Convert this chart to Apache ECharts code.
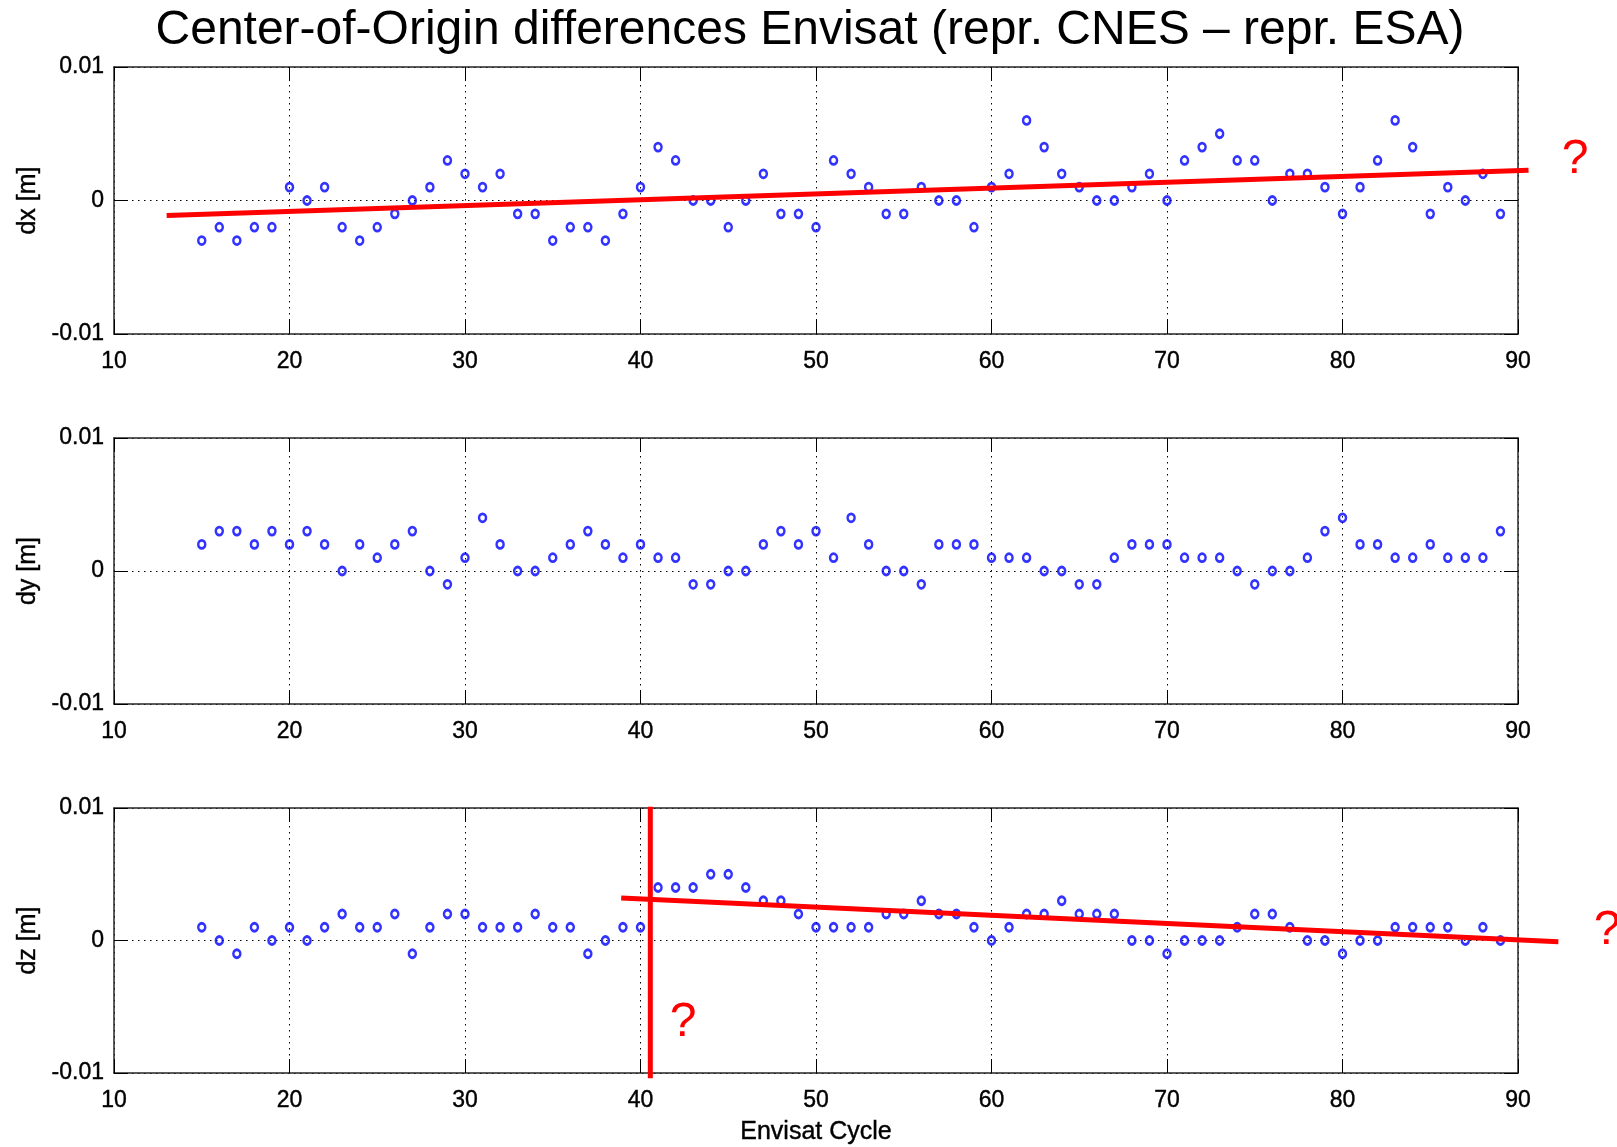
<!DOCTYPE html>
<html>
<head>
<meta charset="utf-8">
<title>Center-of-Origin differences Envisat</title>
<script src="https://cdn.jsdelivr.net/npm/echarts@6/dist/echarts.min.js"></script>
<style>
  html, body { margin: 0; padding: 0; background: #fff; }
  #chart { width: 1617px; height: 1147px; }
</style>
</head>
<body>
<div id="chart"></div>
<script>
// Envisat cycles
const cycles = [15, 16, 17, 18, 19, 20, 21, 22, 23, 24, 25, 26, 27, 28, 29,
  30, 31, 32, 33, 34, 35, 36, 37, 38, 39, 40, 41, 42, 43, 44, 45, 46, 47, 48, 49,
  50, 51, 52, 53, 54, 55, 56, 57, 58, 59, 60, 61, 62, 63, 64, 65, 66, 67, 68, 69,
  70, 71, 72, 73, 74, 75, 76, 77, 78, 79, 80, 81, 82, 83, 84, 85, 86, 87, 88, 89]

// differences in metres (repr. CNES - repr. ESA)
const dx = [-0.003, -0.002, -0.003, -0.002, -0.002, 0.001, 0, 0.001, -0.002, -0.003,
  -0.002, -0.001, 0, 0.001, 0.003, 0.002, 0.001, 0.002, -0.001, -0.001,
  -0.003, -0.002, -0.002, -0.003, -0.001, 0.001, 0.004, 0.003, 0, 0,
  -0.002, 0, 0.002, -0.001, -0.001, -0.002, 0.003, 0.002, 0.001, -0.001,
  -0.001, 0.001, 0, 0, -0.002, 0.001, 0.002, 0.006, 0.004, 0.002,
  0.001, 0, 0, 0.001, 0.002, 0, 0.003, 0.004, 0.005, 0.003,
  0.003, 0, 0.002, 0.002, 0.001, -0.001, 0.001, 0.003, 0.006, 0.004,
  -0.001, 0.001, 0, 0.002, -0.001]

const dy = [0.002, 0.003, 0.003, 0.002, 0.003, 0.002, 0.003, 0.002, 0, 0.002,
  0.001, 0.002, 0.003, 0, -0.001, 0.001, 0.004, 0.002, 0, 0,
  0.001, 0.002, 0.003, 0.002, 0.001, 0.002, 0.001, 0.001, -0.001, -0.001,
  0, 0, 0.002, 0.003, 0.002, 0.003, 0.001, 0.004, 0.002, 0,
  0, -0.001, 0.002, 0.002, 0.002, 0.001, 0.001, 0.001, 0, 0,
  -0.001, -0.001, 0.001, 0.002, 0.002, 0.002, 0.001, 0.001, 0.001, 0,
  -0.001, 0, 0, 0.001, 0.003, 0.004, 0.002, 0.002, 0.001, 0.001,
  0.002, 0.001, 0.001, 0.001, 0.003]

const dz = [0.001, 0, -0.001, 0.001, 0, 0.001, 0, 0.001, 0.002, 0.001,
  0.001, 0.002, -0.001, 0.001, 0.002, 0.002, 0.001, 0.001, 0.001, 0.002,
  0.001, 0.001, -0.001, 0, 0.001, 0.001, 0.004, 0.004, 0.004, 0.005,
  0.005, 0.004, 0.003, 0.003, 0.002, 0.001, 0.001, 0.001, 0.001, 0.002,
  0.002, 0.003, 0.002, 0.002, 0.001, 0, 0.001, 0.002, 0.002, 0.003,
  0.002, 0.002, 0.002, 0, 0, -0.001, 0, 0, 0, 0.001,
  0.002, 0.002, 0.001, 0, 0, -0.001, 0, 0, 0.001, 0.001,
  0.001, 0.001, 0, 0.001, 0]

// red lines drawn on top of the plot: [cycle1, value1, cycle2, value2]
const dxTrend = [13, -0.00113, 90.6, 0.00227]
const dzTrend = [38.9, 0.0032, 92.3, -0.0001]
const dzBreak = [40.56, 0.0101, 40.56, -0.0104]

const xTicks = [10, 20, 30, 40, 50, 60, 70, 80, 90]
const yTicks = [-0.01, 0, 0.01]
const panelNames = ['dx [m]', 'dy [m]', 'dz [m]']

const FONT = "'Liberation Sans', Arial, Helvetica, sans-serif"
const frameColor = '#262626'
const dotted = { color: '#000', width: 1, type: [1.5, 4.5] }
// matlab-ish text is a touch heavier than plain Liberation Sans
const textBase = { color: '#000', fontFamily: FONT, textBorderColor: '#000', textBorderWidth: 0.4 }

const chart = echarts.init(document.getElementById('chart'))

const panels = [
  { top: 67, height: 267 },
  { top: 438, height: 266 },
  { top: 808, height: 265 }
]

const grid = panels.map(p => ({ left: 114, right: 99, top: p.top, height: p.height }))

const xAxis = []
const yAxis = []
panels.forEach((p, i) => {
  const xBase = {
    type: 'value',
    gridIndex: i,
    min: xTicks[0],
    max: xTicks[xTicks.length - 1],
    interval: 10,
    axisLine: { onZero: false, lineStyle: { color: frameColor, width: 1.5 } },
    axisTick: { inside: true, length: 14, lineStyle: { color: '#000', width: 1 } }
  }
  xAxis.push(Object.assign({}, xBase, {
    position: 'bottom',
    axisLabel: Object.assign({ fontSize: 23, margin: 16 }, textBase),
    splitLine: { show: true, lineStyle: dotted },
    name: i === 2 ? 'Envisat Cycle' : '',
    nameLocation: 'middle',
    nameGap: 47,
    nameTextStyle: Object.assign({ fontSize: 25 }, textBase)
  }))
  xAxis.push(Object.assign({}, xBase, {
    position: 'top',
    axisLabel: { show: false },
    splitLine: { show: false }
  }))

  const yBase = {
    type: 'value',
    gridIndex: i,
    min: yTicks[0],
    max: yTicks[yTicks.length - 1],
    interval: 0.01,
    axisLine: { onZero: false, lineStyle: { color: frameColor, width: 1.5 } },
    axisTick: { inside: true, length: 14, lineStyle: { color: '#000', width: 1 } }
  }
  yAxis.push(Object.assign({}, yBase, {
    position: 'left',
    axisLabel: Object.assign({
      fontSize: 23, margin: 10,
      padding: [6, 0, 0, 0],
      formatter: v => (v === 0 ? '0' : String(+v.toFixed(2)))
    }, textBase),
    splitLine: { show: true, lineStyle: dotted },
    name: panelNames[i],
    nameLocation: 'middle',
    nameRotate: 90,
    nameGap: 72,
    nameTextStyle: Object.assign({ fontSize: 25 }, textBase)
  }))
  yAxis.push(Object.assign({}, yBase, {
    position: 'right',
    axisLabel: { show: false },
    splitLine: { show: false }
  }))
})

const points = [dx, dy, dz]
const series = points.map((vals, i) => ({
  type: 'scatter',
  xAxisIndex: i * 2,
  yAxisIndex: i * 2,
  data: cycles.map((c, k) => [c, vals[k]]),
  symbol: 'circle',
  symbolSize: [7, 8],
  itemStyle: { color: 'rgba(0,0,0,0)', borderColor: '#0000ff', borderWidth: 2.6 },
  silent: true,
  z: 3
}))

// custom series so the red strokes can run past the axes box
const redLine = (seg, panel) => ({
  type: 'custom',
  xAxisIndex: panel * 2,
  yAxisIndex: panel * 2,
  data: [seg],
  encode: { x: [0, 2], y: [1, 3] },
  clip: false,
  silent: true,
  z: 4,
  renderItem: (params, api) => {
    const a = api.coord([api.value(0), api.value(1)])
    const b = api.coord([api.value(2), api.value(3)])
    return {
      type: 'line',
      shape: { x1: a[0], y1: a[1], x2: b[0], y2: b[1] },
      style: { stroke: '#ff0000', lineWidth: 5, lineCap: 'butt' }
    }
  }
})
series.push(redLine(dxTrend, 0))
series.push(redLine(dzTrend, 2))
series.push(redLine(dzBreak, 2))

const question = (x, y) => ({
  type: 'text',
  x: x,
  y: y,
  style: {
    text: '?',
    fill: '#ff0000',
    font: '48px ' + FONT,
    textAlign: 'center',
    textVerticalAlign: 'middle'
  },
  z: 10
})

const option = {
  animation: false,
  backgroundColor: '#fff',
  grid: grid,
  xAxis: xAxis,
  yAxis: yAxis,
  series: series,
  graphic: [
    {
      type: 'text',
      x: 810,
      y: 31,
      style: {
        text: 'Center-of-Origin differences Envisat (repr. CNES \u2013 repr. ESA)',
        fill: '#000',
        font: '48px ' + FONT,
        textAlign: 'center',
        textVerticalAlign: 'middle'
      }
    },
    question(1575, 160),
    question(683, 1023),
    question(1607, 931)
  ]
}

chart.setOption(option)
</script>
</body>
</html>
